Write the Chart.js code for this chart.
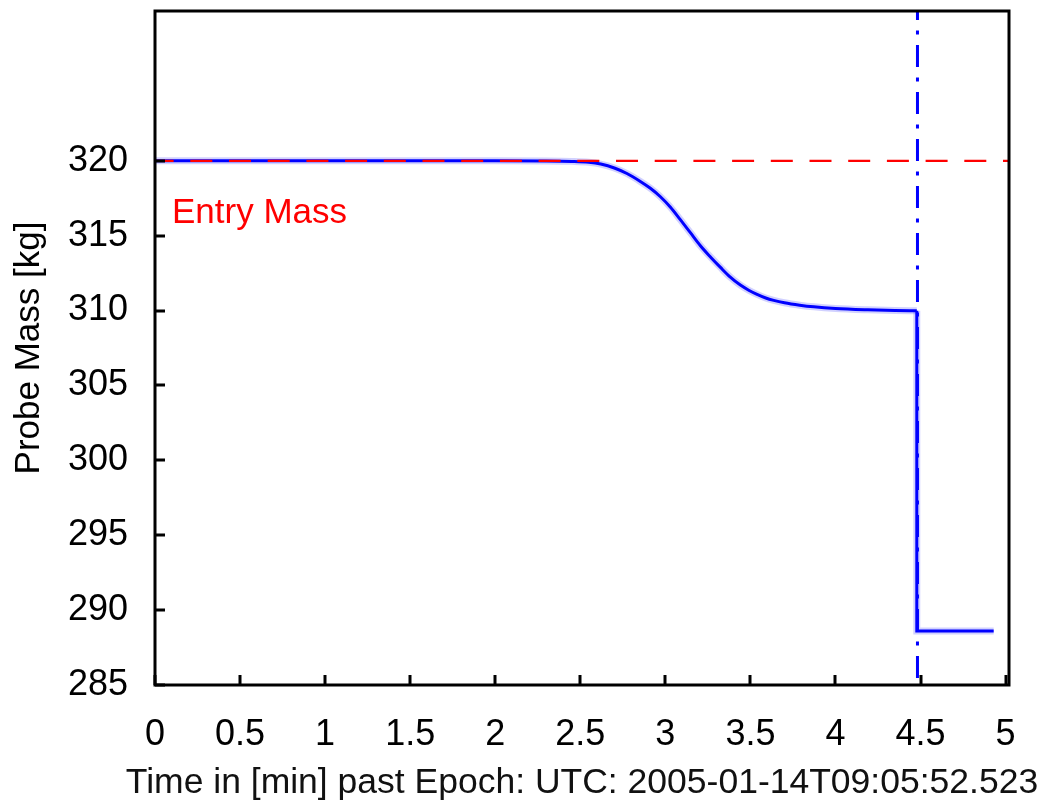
<!DOCTYPE html>
<html>
<head>
<meta charset="utf-8">
<title>Probe Mass</title>
<script src="https://cdn.jsdelivr.net/npm/chart.js@4.4.1/dist/chart.umd.min.js"></script>
<style>
    html, body { margin: 0; padding: 0; background: #fff; }
    #wrap { width: 1046px; height: 802px; position: relative; }
</style>
</head>
<body>
<div id="wrap"><canvas id="massChart"></canvas></div>
<script>
// Dados
const timeMin = [0, 0.5, 1, 1.5, 2, 2.3, 2.45, 2.55, 2.62, 2.7, 2.774, 2.853, 2.91, 2.971, 3.03,
    3.088, 3.147, 3.206, 3.265, 3.324, 3.38, 3.441, 3.49, 3.539, 3.59, 3.637, 3.7, 3.79, 3.873,
    4.0, 4.19, 4.35, 4.478, 4.478, 4.6, 4.8, 4.93];
const probeMass = [320, 320, 320, 320, 320, 319.99, 319.96, 319.9, 319.78, 319.52, 319.15, 318.62, 318.18, 317.6, 316.9,
    316.07, 315.2, 314.33, 313.58, 312.88, 312.25, 311.7, 311.36, 311.08, 310.84, 310.68, 310.52, 310.36, 310.25,
    310.14, 310.05, 310.0, 309.98, 288.6, 288.6, 288.6, 288.6];

const entryMass = 320;
const entryLineTime = [0, 5.02];
const separationTime = 4.482;

const xTicks = [0, 0.5, 1, 1.5, 2, 2.5, 3, 3.5, 4, 4.5, 5];
const yTicks = [285, 290, 295, 300, 305, 310, 315, 320];

const xTitle = 'Time in [min] past Epoch: UTC: 2005-01-14T09:05:52.523';
const FONT = 'Liberation Sans, Arial, sans-serif';

// Moldura, marcas de escala para dentro, rótulo "Entry Mass" e título do eixo x
const frameAndTicks = {
    id: 'frameAndTicks',
    afterDatasetsDraw(chart) {
        const { ctx, chartArea: a, scales } = chart;
        ctx.save();
        ctx.strokeStyle = '#000';
        ctx.lineWidth = 3;
        ctx.beginPath();
        scales.x.ticks.forEach(t => {
            const px = Math.round(scales.x.getPixelForValue(t.value));
            ctx.moveTo(px, a.bottom);
            ctx.lineTo(px, a.bottom - 10);
        });
        scales.y.ticks.forEach(t => {
            const py = Math.round(scales.y.getPixelForValue(t.value));
            ctx.moveTo(a.left, py);
            ctx.lineTo(a.left + 10, py);
        });
        ctx.stroke();
        ctx.strokeRect(a.left, a.top, a.right - a.left, a.bottom - a.top);

        ctx.fillStyle = '#ff0000';
        ctx.font = '35px ' + FONT;
        ctx.textBaseline = 'alphabetic';
        ctx.textAlign = 'left';
        ctx.fillText('Entry Mass', scales.x.getPixelForValue(0.1), scales.y.getPixelForValue(315.85));

        // o título do eixo x é mais largo que a área do gráfico, por isso é desenhado aqui
        ctx.fillStyle = '#111';
        ctx.font = '35.5px ' + FONT;
        ctx.textAlign = 'center';
        ctx.fillText(xTitle, (a.left + a.right) / 2, a.bottom + 108);
        ctx.restore();
    }
};

// a descida suave e o degrau da separação são desenhados à parte
const dropIndex = timeMin.findIndex((t, i) => i > 0 && t === timeMin[i - 1]);
const curve = timeMin.map((t, i) => ({ x: t, y: probeMass[i] }));
const smoothPart = curve.slice(0, dropIndex);
const stepPart = curve.slice(dropIndex - 1);

const blueLine = (data, color, width, smooth) => ({
    data,
    borderColor: color,
    borderWidth: width,
    pointRadius: 0,
    cubicInterpolationMode: smooth ? 'monotone' : 'default',
    tension: 0
});

new Chart(document.getElementById('massChart'), {
    type: 'line',
    data: {
        datasets: [
            {
                data: entryLineTime.map(t => ({ x: t, y: entryMass })),
                borderColor: '#ff0000',
                borderWidth: 2.2,
                borderDash: [22, 16.7],
                borderDashOffset: 3.4,
                pointRadius: 0
            },
            blueLine(smoothPart, '#0000ff', 3, true),
            blueLine(stepPart, '#0000ff', 3, false),
            blueLine(smoothPart, 'rgba(0, 0, 255, 0.18)', 7, true),
            blueLine(stepPart, 'rgba(0, 0, 255, 0.18)', 7, false),
            {
                data: [{ x: separationTime, y: 330 }, { x: separationTime, y: 285 }],
                borderColor: '#0000ff',
                borderWidth: 3,
                borderDash: [22, 10.5, 4, 10.5],
                borderDashOffset: 13,
                pointRadius: 0
            }
        ]
    },
    options: {
        responsive: true,
        maintainAspectRatio: false,
        animation: false,
        layout: { padding: { top: 11, right: 37, left: 0, bottom: 0 } },
        plugins: {
            legend: { display: false },
            tooltip: { enabled: false }
        },
        scales: {
            x: {
                type: 'linear',
                min: 0,
                max: 5.02,
                afterBuildTicks: s => { s.ticks = xTicks.map(v => ({ value: v })); },
                afterFit: s => { s.height = 117; s.paddingLeft = 0; s.paddingRight = 0; },
                grid: { display: false, drawTicks: false },
                border: { display: false },
                ticks: {
                    autoSkip: false,
                    maxRotation: 0,
                    padding: 28,
                    color: '#000',
                    font: { family: FONT, size: 36 },
                    callback: v => String(+v.toFixed(2))
                }
            },
            y: {
                min: 285,
                max: 330,
                afterBuildTicks: s => { s.ticks = yTicks.map(v => ({ value: v })); },
                afterFit: s => { s.width = 155; s.paddingTop = 0; s.paddingBottom = 0; },
                grid: { display: false, drawTicks: false },
                border: { display: false },
                ticks: {
                    padding: 27,
                    color: '#000',
                    font: { family: FONT, size: 36 },
                    callback: v => String(v)
                },
                title: {
                    display: true,
                    text: 'Probe Mass [kg]',
                    color: '#000',
                    font: { family: FONT, size: 35 },
                    padding: { top: 8, bottom: 0 }
                }
            }
        }
    },
    plugins: [frameAndTicks]
});
</script>
</body>
</html>
